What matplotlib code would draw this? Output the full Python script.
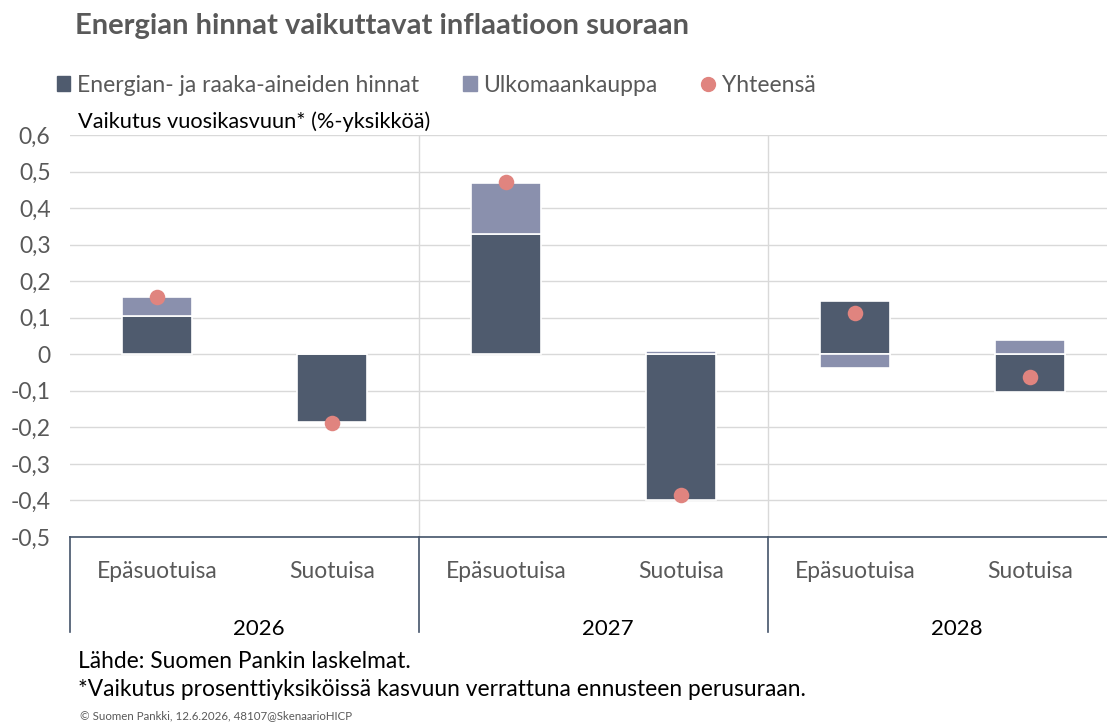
import numpy as np
import matplotlib.pyplot as plt
from matplotlib.lines import Line2D
from matplotlib.patches import Patch
import matplotlib.transforms as mtransforms

plt.rcParams['font.family'] = ['Lato', 'DejaVu Sans']

# ==== data ==== #
scenarios = ["Epäsuotuisa", "Suotuisa", "Epäsuotuisa", "Suotuisa", "Epäsuotuisa", "Suotuisa"]
years = ["2026", "2027", "2028"]
energy = [0.104, -0.186, 0.330, -0.398, 0.147, -0.103]   # Energian- ja raaka-aineiden hinnat
trade = [0.052, 0.0, 0.139, 0.010, -0.037, 0.040]       # Ulkomaankauppa
total = [0.156, -0.187, 0.471, -0.384, 0.112, -0.061]   # Yhteensä
yticks = [0.6, 0.5, 0.4, 0.3, 0.2, 0.1, 0.0, -0.1, -0.2, -0.3, -0.4, -0.5]

c_dark = "#4f5b6e"
c_light = "#8a90ad"
c_dot = "#e0847f"
c_grey = "#595959"

fig = plt.figure(figsize=(11.07, 7.23), dpi=100)
ax = fig.add_axes([70 / 1107, 1 - 537 / 723, 1 - 70 / 1107, (537 - 135) / 723])

x = np.arange(len(scenarios))
w = 0.4

# pinoaminen erikseen positiivisille ja negatiivisille arvoille
pos = np.zeros(len(x))
neg = np.zeros(len(x))
for vals, col in [(energy, c_dark), (trade, c_light)]:
    vals = np.array(vals)
    bottom = np.where(vals >= 0, pos, neg)
    ax.bar(x, vals, w, bottom=bottom, color=col, edgecolor="white", linewidth=1.2, zorder=3)
    pos = pos + np.where(vals >= 0, vals, 0)
    neg = neg + np.where(vals < 0, vals, 0)

ax.scatter(x, total, s=125, color=c_dot, zorder=4, linewidths=0)


def fmt(v):
    if abs(v) < 1e-9:
        return "0"
    return f"{v:.1f}".replace(".", ",")


ax.set_ylim(-0.5, 0.6)
ax.set_xlim(-0.5, 5.443)
ax.set_yticks(yticks)
ax.set_yticklabels([fmt(v) for v in yticks], fontsize=16.5, color=c_grey)
ax.yaxis.grid(True, color="#d9d9d9", linewidth=1, zorder=0)
ax.tick_params(axis="y", length=0, pad=14)

ax.set_xticks(x)
ax.set_xticklabels(scenarios, fontsize=16.5, color=c_grey)
ax.tick_params(axis="x", length=0, pad=17)

for s in ["top", "right", "left"]:
    ax.spines[s].set_visible(False)
ax.spines["bottom"].set_color("#44546a")
ax.spines["bottom"].set_linewidth(1.2)

# ryhmien erottimet
trans = mtransforms.blended_transform_factory(ax.transData, ax.transAxes)
for b in [1.5, 3.5]:
    ax.plot([b, b], [0, 1], color="#d9d9d9", linewidth=1, transform=trans, zorder=0)
for b in [-0.5, 1.5, 3.5]:
    ax.plot([b, b], [0, -0.236], color="#44546a", linewidth=1.2, transform=trans, clip_on=False)
for i, yr in enumerate(years):
    ax.text(2 * i + 0.5 + 0.08, -0.228, yr, transform=trans, ha="center", va="center",
            fontsize=16, color="black")

# otsikko ja selitteet
fig.text(75 / 1107, 1 - 26 / 723, "Energian hinnat vaikuttavat inflaatioon suoraan",
         fontsize=21, fontweight="bold", color=c_grey, va="center")
fig.text(78 / 1107, 1 - 122 / 723, "Vaikutus vuosikasvuun* (%-yksikköä)",
         fontsize=15.7, color="black", va="center")

handles = [Patch(color=c_dark), Patch(color=c_light),
           Line2D([], [], marker="o", linestyle="", markersize=10, color=c_dot)]
labels = ["Energian- ja raaka-aineiden hinnat", "Ulkomaankauppa", "Yhteensä"]
fig.legend(handles, labels, loc="center left", bbox_to_anchor=(36 / 1107, 1 - 85 / 723),
           ncol=3, frameon=False, fontsize=16.5, handlelength=0.6, handleheight=0.6,
           handletextpad=0.3, columnspacing=1.9, labelcolor=c_grey)

fig.text(78 / 1107, 1 - 662 / 723, "Lähde: Suomen Pankin laskelmat.", fontsize=16.4, va="center")
fig.text(78 / 1107, 1 - 690 / 723,
         "*Vaikutus prosenttiyksiköissä kasvuun verrattuna ennusteen perusuraan.",
         fontsize=16.4, va="center")
fig.text(80 / 1107, 1 - 716 / 723, "© Suomen Pankki, 12.6.2026, 48107@SkenaarioHICP",
         fontsize=8.3, color=c_grey, va="center")

fig.savefig("out.png", dpi=100)
